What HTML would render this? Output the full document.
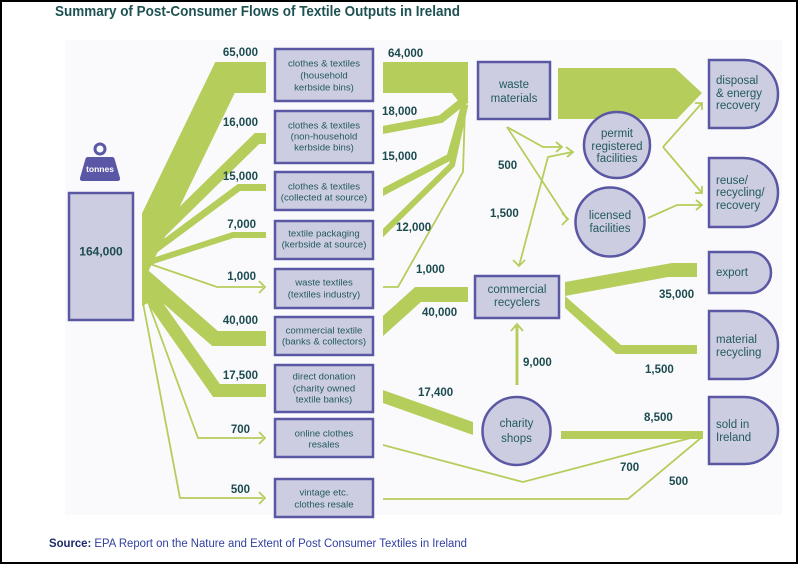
<!DOCTYPE html>
<html><head><meta charset="utf-8"><style>
html,body{margin:0;padding:0;background:#fff;}
svg{display:block;}
text{font-family:"Liberation Sans",Arial,sans-serif;}
.bt{font-size:9.6px;fill:#235a5f;text-anchor:middle;}
.nt{font-size:11.5px;fill:#235a5f;}
.lb{font-size:11.5px;font-weight:bold;fill:#1b4b4e;}
.fl{fill:none;stroke:#b5cd5b;stroke-linejoin:miter;stroke-miterlimit:10;}
.ar{fill:none;stroke:#b5cd5b;stroke-width:1.8;stroke-linejoin:miter;}
.nd{fill:#cdcde2;stroke:#5a57a3;stroke-width:2.5;}
</style></head><body>
<svg width="800" height="565" viewBox="0 0 800 565" xmlns="http://www.w3.org/2000/svg">
<defs>
<clipPath id="cl"><rect x="142" y="0" width="124" height="565"/></clipPath>
<clipPath id="cm"><rect x="383" y="0" width="87" height="565"/></clipPath>
</defs>
<rect width="800" height="565" fill="#fff"/>
<rect x="65" y="40" width="717" height="475" fill="#fafafc"/>
<rect x="1" y="1" width="796" height="562" fill="none" stroke="#000" stroke-width="2"/>

<text x="55" y="16" font-size="15" font-weight="bold" fill="#1e5252" textLength="405" lengthAdjust="spacingAndGlyphs">Summary of Post-Consumer Flows of Textile Outputs in Ireland</text>

<!-- left fan -->
<g clip-path="url(#cl)">
<polyline class="fl" stroke-width="31" points="266,77.5 225,77.5 110,315"/>
<polyline class="fl" stroke-width="11" points="266,138.5 257,138.5 125,268"/>
<polyline class="fl" stroke-width="7" points="266,187.5 239,187.5 125,272"/>
<polyline class="fl" stroke-width="6" points="266,235 233,235 125,270"/>
<polyline class="fl" stroke-width="15" points="266,338.5 215,338.5 125,260"/>
<polyline class="fl" stroke-width="13" points="266,390.5 216.5,390.5 125,260"/>
<polygon fill="#b5cd5b" points="142,270 152,280 150,302 142,306"/>
</g>
<polyline class="ar" points="263,287 217,287 150,264"/>
<polyline class="ar" points="259,281 265,287 259,293"/>
<polyline class="ar" points="263,438 198,438 148,302"/>
<polyline class="ar" points="259,432 265,438 259,444"/>
<polyline class="ar" points="263,498 180,498 143,303"/>
<polyline class="ar" points="259,492 265,498 259,504"/>

<!-- middle flows -->
<polygon fill="#b5cd5b" points="383,62 468,62 468,103 462,106 452,93 383,93"/>
<g clip-path="url(#cm)">
<polyline class="fl" stroke-width="8" points="370,132.4 441,119 466,99"/>
<polyline class="fl" stroke-width="7" points="371.5,198 450,157 465,104"/>
<polyline class="fl" stroke-width="6" points="373.7,242.2 452,165 465,106"/>
<polyline class="fl" stroke-width="15" points="373,335 418,294.5 468,294.5"/>
</g>
<polyline class="ar" points="383,287 398,287 463,172 465,108"/>
<polygon fill="#b5cd5b" points="383,390 473,422 473,435 383,403"/>

<!-- right flows -->
<polygon fill="#b5cd5b" points="558,68 675,68 702,93 677,119 558,119"/>
<polygon fill="#b5cd5b" points="565,282 672,263 697,263 697,277 668,277 565,296"/>
<polygon fill="#b5cd5b" points="565,296 621,345 697,345 697,354 616,354 565,308"/>
<rect x="561" y="431" width="142" height="8" fill="#b5cd5b"/>
<polyline class="ar" points="383,445 523,482 702,435"/>
<polyline class="ar" points="383,499 628,499 702,437"/>
<line x1="517" y1="385" x2="517" y2="326" stroke="#b5cd5b" stroke-width="3"/>
<polyline class="ar" stroke-width="2.2" points="511,331 517,324 523,331"/>

<!-- thin arrows around facilities -->
<polyline class="ar" points="507,127 543,147 562,147"/>
<polyline class="ar" points="556,142 562,147 556,152"/>
<polyline class="ar" points="507,127 567,219"/>
<polyline class="ar" points="562,213 568,219 562,225"/>
<polyline class="ar" points="519,266 548,157 572,152"/>
<polyline class="ar" points="566,147 573,152 567,157"/>
<polyline class="ar" points="513,260 519,266 525,260"/>
<polyline class="ar" points="663,147 702,103"/>
<polyline class="ar" points="695,103 702,103 702,110"/>
<polyline class="ar" points="663,147 702,193"/>
<polyline class="ar" points="702,186 702,193 695,193"/>
<polyline class="ar" points="648,218 677,205 702,205"/>
<polyline class="ar" points="696,200 702,205 696,210"/>

<!-- weight icon -->
<circle cx="100" cy="149" r="5" fill="none" stroke="#5a57a6" stroke-width="3"/>
<path d="M88,157 L112,157 Q114,157 114.6,159 L120,178 Q120.6,181 117,181 L83,181 Q79.4,181 80,178 L85.4,159 Q86,157 88,157 Z" fill="#5a57a6"/>
<text x="100" y="172" font-size="8.5" font-weight="bold" fill="#fff" text-anchor="middle">tonnes</text>

<!-- source box -->
<rect class="nd" x="69" y="193" width="64" height="127"/>
<text x="101" y="255.5" font-size="12" font-weight="bold" fill="#1b4b4e" text-anchor="middle">164,000</text>

<!-- column 1 boxes -->
<rect class="nd" x="275" y="49" width="98" height="52"/>
<rect class="nd" x="275" y="111" width="98" height="52"/>
<rect class="nd" x="275" y="172" width="98" height="38"/>
<rect class="nd" x="275" y="221" width="98" height="38"/>
<rect class="nd" x="275" y="269" width="98" height="39"/>
<rect class="nd" x="275" y="317" width="98" height="38"/>
<rect class="nd" x="275" y="365" width="98" height="47"/>
<rect class="nd" x="275" y="419" width="98" height="38"/>
<rect class="nd" x="275" y="479" width="98" height="38"/>
<text class="bt" x="324" y="66.4">clothes &amp; textiles</text>
<text class="bt" x="324" y="78.4">(household</text>
<text class="bt" x="324" y="90.4">kerbside bins)</text>
<text class="bt" x="324" y="128.4">clothes &amp; textiles</text>
<text class="bt" x="324" y="139.4">(non-household</text>
<text class="bt" x="324" y="150.4">kerbside bins)</text>
<text class="bt" x="324" y="189.4">clothes &amp; textiles</text>
<text class="bt" x="324" y="200.4">(collected at source)</text>
<text class="bt" x="324" y="236.4">textile packaging</text>
<text class="bt" x="324" y="247.4">(kerbside at source)</text>
<text class="bt" x="324" y="285.4">waste textiles</text>
<text class="bt" x="324" y="297.4">(textiles industry)</text>
<text class="bt" x="324" y="333.4">commercial textile</text>
<text class="bt" x="324" y="344.4">(banks &amp; collectors)</text>
<text class="bt" x="324" y="379.4">direct donation</text>
<text class="bt" x="324" y="391.4">(charity owned</text>
<text class="bt" x="324" y="402.4">textile banks)</text>
<text class="bt" x="324" y="436.4">online clothes</text>
<text class="bt" x="324" y="447.4">resales</text>
<text class="bt" x="324" y="495.4">vintage etc.</text>
<text class="bt" x="324" y="507.4">clothes resale</text>

<!-- middle nodes -->
<rect class="nd" x="478" y="62" width="72" height="57"/>
<text class="nt" x="514" y="88" text-anchor="middle">waste</text>
<text class="nt" x="514" y="102" text-anchor="middle">materials</text>
<rect class="nd" x="475" y="276" width="84" height="42"/>
<text class="nt" x="517" y="293" text-anchor="middle">commercial</text>
<text class="nt" x="517" y="306" text-anchor="middle">recyclers</text>
<circle class="nd" cx="617" cy="145" r="33"/>
<text class="nt" x="617" y="137" text-anchor="middle">permit</text>
<text class="nt" x="617" y="150" text-anchor="middle">registered</text>
<text class="nt" x="617" y="162" text-anchor="middle">facilities</text>
<circle class="nd" cx="610" cy="222" r="34.5"/>
<text class="nt" x="610" y="219" text-anchor="middle">licensed</text>
<text class="nt" x="610" y="232" text-anchor="middle">facilities</text>
<circle class="nd" cx="516.5" cy="431" r="34"/>
<text class="nt" x="516.5" y="427" text-anchor="middle">charity</text>
<text class="nt" x="516.5" y="442" text-anchor="middle">shops</text>

<!-- right D nodes -->
<path class="nd" d="M709,60 H744 A34,34 0 0 1 744,128 H709 Z"/>
<path class="nd" d="M709,158 H743.5 A34.5,34.5 0 0 1 743.5,227 H709 Z"/>
<path class="nd" d="M709,252 H750.5 A20.5,20.5 0 0 1 750.5,293 H709 Z"/>
<path class="nd" d="M709,311 H744 A34,34 0 0 1 744,379 H709 Z"/>
<path class="nd" d="M709,397 H744.5 A33.5,33.5 0 0 1 744.5,464 H709 Z"/>
<text class="nt" x="716" y="84">disposal</text>
<text class="nt" x="716" y="97">&amp; energy</text>
<text class="nt" x="716" y="109">recovery</text>
<text class="nt" x="716" y="184">reuse/</text>
<text class="nt" x="716" y="196">recycling/</text>
<text class="nt" x="716" y="209">recovery</text>
<text class="nt" x="716" y="276">export</text>
<text class="nt" x="716" y="343">material</text>
<text class="nt" x="716" y="356">recycling</text>
<text class="nt" x="716" y="428">sold in</text>
<text class="nt" x="716" y="441">Ireland</text>

<!-- flow labels left -->
<text class="lb" x="258" y="56" text-anchor="end">65,000</text>
<text class="lb" x="258" y="126" text-anchor="end">16,000</text>
<text class="lb" x="258" y="180" text-anchor="end">15,000</text>
<text class="lb" x="256" y="228" text-anchor="end">7,000</text>
<text class="lb" x="256" y="280" text-anchor="end">1,000</text>
<text class="lb" x="258" y="324" text-anchor="end">40,000</text>
<text class="lb" x="258" y="379" text-anchor="end">17,500</text>
<text class="lb" x="250" y="433" text-anchor="end">700</text>
<text class="lb" x="250" y="493" text-anchor="end">500</text>

<text class="lb" x="388" y="57">64,000</text>
<text class="lb" x="382" y="115">18,000</text>
<text class="lb" x="382" y="160">15,000</text>
<text class="lb" x="396" y="231">12,000</text>
<text class="lb" x="416" y="273">1,000</text>
<text class="lb" x="422" y="316">40,000</text>
<text class="lb" x="498" y="169">500</text>
<text class="lb" x="490" y="217">1,500</text>
<text class="lb" x="659" y="298">35,000</text>
<text class="lb" x="645" y="373">1,500</text>
<text class="lb" x="523" y="366">9,000</text>
<text class="lb" x="418" y="396">17,400</text>
<text class="lb" x="644" y="421">8,500</text>
<text class="lb" x="620" y="471">700</text>
<text class="lb" x="669" y="485">500</text>

<text x="49" y="547" font-size="11.5" textLength="418" lengthAdjust="spacingAndGlyphs"><tspan font-weight="bold" fill="#1c2a6a">Source:</tspan><tspan fill="#3040a0"> EPA Report on the Nature and Extent of Post Consumer Textiles in Ireland</tspan></text>
</svg>
</body></html>
